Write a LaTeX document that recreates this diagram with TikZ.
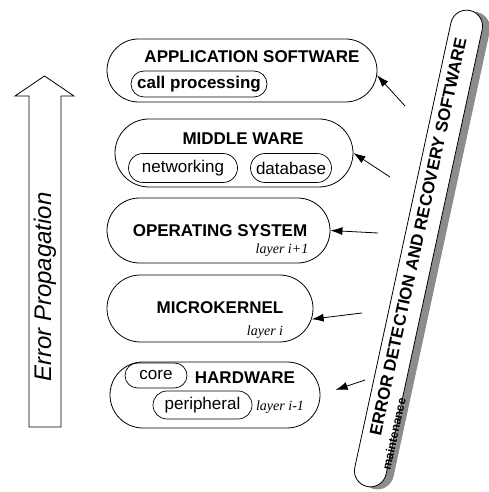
\documentclass[tikz,border=0pt]{standalone}
\usepackage{fontspec}
\setmainfont{Liberation Sans}
\newfontfamily\layerfont{Liberation Serif}
\usetikzlibrary{arrows.meta,shapes.misc,positioning}
\begin{document}
\begin{tikzpicture}[x=1pt, y=1pt,
  layerbox/.style={rounded rectangle, draw, line width=.8pt, inner sep=0pt},
  partbox/.style={rounded rectangle, draw, line width=.7pt, inner sep=0pt, font=\fontsize{17}{20}\selectfont},
  layertitle/.style={inner sep=0pt, font=\bfseries\fontsize{17}{20}\selectfont},
  layerno/.style={inner sep=0pt, font=\layerfont\itshape\fontsize{14}{16}\selectfont},
  edrbar/.style={rounded rectangle, rotate=77.8, minimum width=487pt, minimum height=32pt, inner sep=0pt},
  feed/.style={-{Latex[length=12pt,width=8pt]}, line width=.8pt}]
\useasboundingbox (0,0) rectangle (488,492);

\draw[line width=.8pt] (29,65) -- (29,396) -- (15,396) -- (44.5,416) -- (74,396) -- (61,396) -- (61,65) -- cycle;
\node[rotate=90, inner sep=0pt, font=\itshape\fontsize{24}{26}\selectfont] (propText) at (45,205) {Error Propagation};

\node[edrbar, draw=black!45, fill=black!45, line width=1pt] (edrShadow) at (425.5,241.5) {};
\node[edrbar, draw, fill=white, line width=.8pt] (edr) at (418.5,243.5) {};
\node[rotate=77.8, inner sep=0pt, font=\bfseries\fontsize{17}{20}\selectfont] (edrText) at (418,255) {ERROR DETECTION AND RECOVERY SOFTWARE};
\node[rotate=77.8, inner sep=0pt, font=\bfseries\fontsize{12}{14}\selectfont] (maint) at (394,58) {maintenance};

\node[layerbox, minimum width=270pt, minimum height=63pt] (app) at (242,421.5) {};
\node[layertitle] (appTitle) at (252,435) {APPLICATION SOFTWARE};
\node[partbox, font=\bfseries\fontsize{17}{20}\selectfont, minimum width=136pt, minimum height=26pt] (callproc) at (199,408) {call processing};

\node[layerbox, minimum width=238pt, minimum height=68pt] (mw) at (234,339) {};
\node[layertitle] (mwTitle) at (243,353) {MIDDLE WARE};
\node[partbox, minimum width=109pt, minimum height=29pt] (net) at (183,324) {networking};
\node[partbox, minimum width=81pt, minimum height=29pt] (db) at (291,324) {database};

\node[layerbox, minimum width=223pt, minimum height=65pt] (os) at (218.5,261.5) {};
\node[layertitle] (osTitle) at (220,261) {OPERATING SYSTEM};
\node[layerno] (osLayer) at (282,242) {layer i+1};

\node[layerbox, minimum width=206pt, minimum height=67pt] (mk) at (210,183.5) {};
\node[layertitle] (mkTitle) at (220,184) {MICROKERNEL};
\node[layerno] (mkLayer) at (265,160) {layer i};

\node[layerbox, minimum width=210pt, minimum height=66pt] (hw) at (215,97) {};
\node[partbox, minimum width=62pt, minimum height=25pt] (core) at (156,116.5) {core};
\node[layertitle] (hwTitle) at (245,114) {HARDWARE};
\node[partbox, minimum width=99pt, minimum height=28pt] (periph) at (202.5,87) {peripheral};
\node[layerno] (hwLayer) at (280,85) {layer i-1};

\coordinate (t1) at (405,386);
\coordinate (t2) at (390,315);
\coordinate (t3) at (378,259);
\coordinate (t4) at (362,179);
\coordinate (t5) at (365,112);
\draw[feed] (t1) -- (app.-2);
\draw[feed] (t2) -- (mw.east);
\draw[feed] (t3) -- (os.east);
\draw[feed] (t4) -- (mk.-6);
\draw[feed, shorten >=16pt] (t5) -- (hw.east);
\end{tikzpicture}
\end{document}
